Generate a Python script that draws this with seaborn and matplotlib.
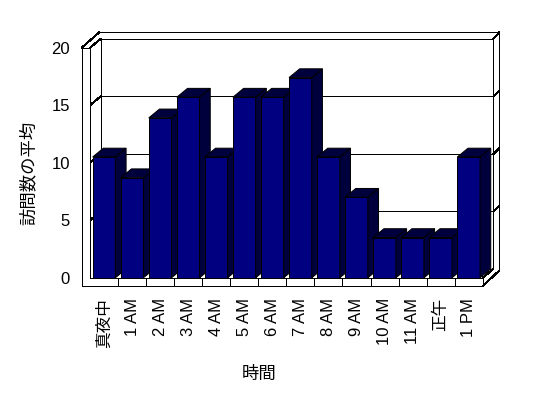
import matplotlib
matplotlib.use("Agg")
import matplotlib.pyplot as plt
import matplotlib.transforms as mtransforms
from matplotlib.patches import Polygon
from matplotlib.lines import Line2D
import pandas as pd
import seaborn as sns

# ---------------- data ----------------
hours = ["真夜中", "1 AM", "2 AM", "3 AM", "4 AM", "5 AM", "6 AM", "7 AM",
         "8 AM", "9 AM", "10 AM", "11 AM", "正午", "1 PM"]
avg_visits = [10.5, 8.7, 13.9, 15.7, 10.5, 15.7, 15.7, 17.4,
              10.5, 7.0, 3.5, 3.5, 3.5, 10.5]
y_ticks = [0, 5, 10, 15, 20]
x_title = "時間"
y_title = "訪問数の平均"

# ---------------- style ----------------
W, H = 548, 398
sns.set_style("white")
plt.rcParams["font.family"] = ["Liberation Sans", "Noto Sans CJK JP", "DejaVu Sans"]
for k in ["text.color", "axes.labelcolor", "xtick.color", "ytick.color"]:
    plt.rcParams[k] = "black"

FRONT = "#000080"
SHADE = "#00003c"
LW = 0.72

fig = plt.figure(figsize=(W / 100, H / 100), dpi=100)
# front plane of the chart (top-left pixel layout)
X0, X1 = 90.0, 482.7
Y0, YT = 277.8, 47.7
ax = fig.add_axes([X0 / W, 1 - Y0 / H, (X1 - X0) / W, (Y0 - YT) / H])

df = pd.DataFrame({"hour": hours, "visits": avg_visits})
sns.barplot(data=df, x="hour", y="visits", order=hours, color=FRONT,
            saturation=1, width=0.81, edgecolor="black", linewidth=LW, ax=ax)
ax.set_xlim(-0.5, len(hours) - 0.5)
ax.set_ylim(y_ticks[0], y_ticks[-1])
ax.set_yticks(y_ticks)
ax.set_yticklabels([str(v) for v in y_ticks])
for s in ax.spines.values():
    s.set_visible(False)
ax.grid(False)
ax.patch.set_alpha(0)
ax.tick_params(axis="both", length=0, labelsize=12, pad=14.5)
ax.tick_params(axis="x", rotation=90)
ax.set_xlabel(x_title, fontsize=12.5)
ax.set_ylabel(y_title, fontsize=12.5)
ax.xaxis.set_label_coords(259 / W, 1 - 374 / H, transform=fig.transFigure)
ax.yaxis.set_label_coords(28 / W, 1 - 173 / H, transform=fig.transFigure)
ax.xaxis.label.set_va("center")
ax.yaxis.label.set_va("center")

# ---------------- 3-D frame (display coordinates) ----------------
ident = mtransforms.IdentityTransform()
bb = ax.bbox
fx0, fx1, fy0, fy1 = bb.x0, bb.x1, bb.y0, bb.y1
ddx, ddy = 10.7, 8.8          # depth offset
wall, floor_t = 8.3, 8.2      # thickness of left wall / floor front faces
bt, br = 6.6, 6.0             # back wall top / right thickness


def seg(p, q, z=0.6):
    ax.add_line(Line2D([p[0], q[0]], [p[1], q[1]], transform=ident,
                       color="black", lw=LW, clip_on=False, zorder=z,
                       antialiased=False))


bx0, bx1 = fx0 + ddx, fx1 + ddx
btop, bbot = fy1 + ddy, fy0 + ddy
outer_top = btop + bt
outer_right = bx1 + br

# back wall
seg((bx0, btop), (bx1, btop))
seg((bx0 - 1.4, outer_top), (outer_right, outer_top))
seg((bx1, btop), (bx1, bbot))
seg((outer_right, outer_top), (outer_right, bbot - 1.5))
seg((bx1, btop), (outer_right, outer_top))
seg((bx0, btop), (bx0, bbot))
seg((bx0, bbot), (bx1, bbot))
# left wall top
seg((fx0 - wall, fy1), (bx0 - 1.4, outer_top))
seg((fx0, fy1), (bx0, btop))

# gridlines on walls
for v in y_ticks[1:-1]:
    yf = ax.transData.transform((0, v))[1]
    seg((fx0 - wall, yf), (fx0, yf))
    seg((fx0, yf), (bx0, yf + ddy))
    seg((bx0, yf + ddy), (bx1, yf + ddy))
    seg((bx1, yf + ddy), (outer_right, yf + ddy + br))

# bars: side and top faces
for i, p in enumerate(ax.patches):
    xl, yb = ax.transData.transform((p.get_x(), 0))
    xr, yt = ax.transData.transform((p.get_x() + p.get_width(), p.get_height()))
    base = 3 + 3 * i
    p.set_zorder(base)
    side = Polygon([(xr, yb), (xr, yt), (xr + ddx, yt + ddy), (xr + ddx, yb + ddy)],
                   closed=True, transform=ident, facecolor=SHADE,
                   edgecolor="black", lw=LW, clip_on=False, zorder=base + 1)
    top = Polygon([(xl, yt), (xr, yt), (xr + ddx, yt + ddy), (xl + ddx, yt + ddy)],
                  closed=True, transform=ident, facecolor=SHADE,
                  edgecolor="black", lw=LW, clip_on=False, zorder=base + 2)
    ax.add_patch(side)
    ax.add_patch(top)

# front faces of left wall and floor (in front of bars)
ZF = 100
ybot = fy0 - floor_t
ax.add_patch(Polygon([(fx0 - wall, ybot), (fx1, ybot), (fx1, fy0), (fx0, fy0),
                      (fx0, fy1), (fx0 - wall, fy1)], closed=True, transform=ident,
                     facecolor="white", edgecolor="none", clip_on=False, zorder=ZF - 1))
seg((fx0 - wall, fy1), (fx0 - wall, ybot), ZF)
seg((fx0 - wall, ybot), (fx1, ybot), ZF)
seg((fx0, fy1), (fx0, fy0), ZF)
seg((fx0, fy0), (fx1, fy0), ZF)
seg((fx1, fy0), (fx1, ybot), ZF)
seg((fx0 - wall, fy1), (fx0, fy1), ZF)
seg((fx1, fy0), (bx1, bbot), ZF)
seg((fx1, ybot), (outer_right, bbot - 1.5), ZF)
for k in range(1, len(hours)):
    xk = ax.transData.transform((k - 0.5, 0))[0]
    seg((xk, fy0), (xk, ybot), ZF)

fig.savefig("out.png", dpi=100)
